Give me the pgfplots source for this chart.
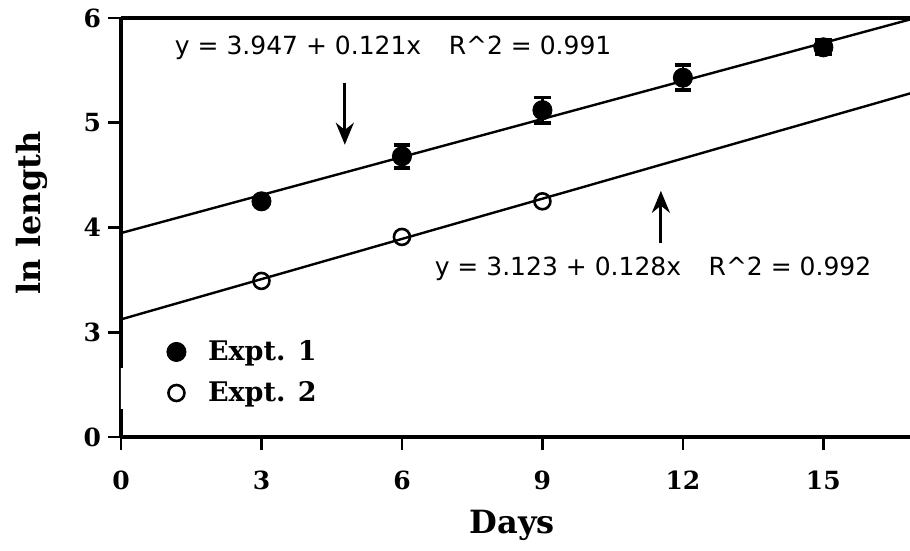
\documentclass[border=0pt]{standalone}
\usepackage{fontspec}
\setmainfont{DejaVu Serif}
\newfontfamily\eqfont{DejaVu Sans}
\usepackage{pgfplots}
\pgfplotsset{compat=1.18}
\usetikzlibrary{arrows.meta}

\begin{document}
\begin{tikzpicture}
\begin{axis}[
  name=ax,
  scale only axis,
  width=394.5pt, height=209.5pt,
  xmin=0, xmax=16.85,
  ymin=2, ymax=6,
  axis x line=box,
  axis y line=left,
  axis line style={line width=1.8pt, -},
  every outer x axis line/.append style={line width=1.8pt},
  every outer y axis line/.append style={line width=1.8pt},
  xtick={0,3,6,9,12,15},
  ytick={2,3,4,5,6},
  yticklabels={0,3,4,5,6},
  xtick pos=bottom,
  tick align=outside,
  major tick length=6.5pt,
  tick style={line width=1.4pt, black},
  /pgf/number format/assume math mode=true,
  ticklabel style={font=\fontsize{12.5}{14}\selectfont\bfseries},
  xticklabel style={yshift=-7pt},
  xlabel={Days},
  ylabel={ln length},
  xlabel style={font=\fontsize{16}{18}\selectfont\bfseries,
    at={(axis description cs:0.496,-0.21)}, anchor=center},
  ylabel style={font=\fontsize{16}{18}\selectfont\bfseries,
    at={(axis description cs:-0.113,0.535)}, anchor=center},
  clip=true,
  legend cell align=left,
  legend style={draw=none, fill=none, at={(axis description cs:0.05,0.154)},
    anchor=west, font=\fontsize{13.5}{15}\selectfont\bfseries,
    row sep=5pt,
    /tikz/every odd column/.append style={column sep=9pt}},
]
% fitted regression lines
\addplot[black, line width=1.2pt, forget plot] coordinates {(0,3.947) (17,6.004)};
\addplot[black, line width=1.2pt, forget plot] coordinates {(0,3.123) (17,5.299)};

% Expt. 1: means with error bars
\addplot[only marks, mark=*, mark size=4.8pt, black,
  error bars/.cd, y dir=both, y explicit,
  error bar style={line width=1.3pt},
  error mark options={rotate=90, mark size=4.2pt, line width=1.8pt}]
  coordinates {
    (3,4.25)  +- (0,0.03)
    (6,4.68)  +- (0,0.11)
    (9,5.12)  +- (0,0.12)
    (12,5.43) +- (0,0.12)
    (15,5.72) +- (0,0.07)
  };
\addlegendentry{Expt. 1}

% Expt. 2
\addplot[only marks, mark=o, mark size=4pt, black, line width=1.3pt,
  mark options={fill=white}]
  coordinates {
    (3,3.49)
    (6,3.91)
    (9,4.25)
  };
\addlegendentry{Expt. 2}

% break in the y axis
\fill[white] (axis cs:-0.5,2.27) rectangle (axis cs:0.5,2.66);

% equations and arrows
\node[anchor=west, font=\eqfont\fontsize{12.5}{14}\selectfont]
  at (axis cs:1.0,5.72) {y = 3.947 + 0.121x\hspace{1.1em}R\textasciicircum2 = 0.991};
\node[anchor=west, font=\eqfont\fontsize{12.5}{14}\selectfont]
  at (axis cs:6.55,3.61) {y = 3.123 + 0.128x\hspace{1.1em}R\textasciicircum2 = 0.992};
\draw[line width=1.5pt, -{Stealth[length=11pt, width=9pt]}]
  (axis cs:4.78,5.38) -- (axis cs:4.78,4.79);
\draw[line width=1.5pt, -{Stealth[length=11pt, width=9pt]}]
  (axis cs:11.53,3.85) -- (axis cs:11.53,4.35);
\end{axis}
\pgfresetboundingbox
\path ([xshift=-60.5pt,yshift=-57pt]ax.south west) rectangle ([yshift=9pt]ax.north east);
\end{tikzpicture}
\end{document}
